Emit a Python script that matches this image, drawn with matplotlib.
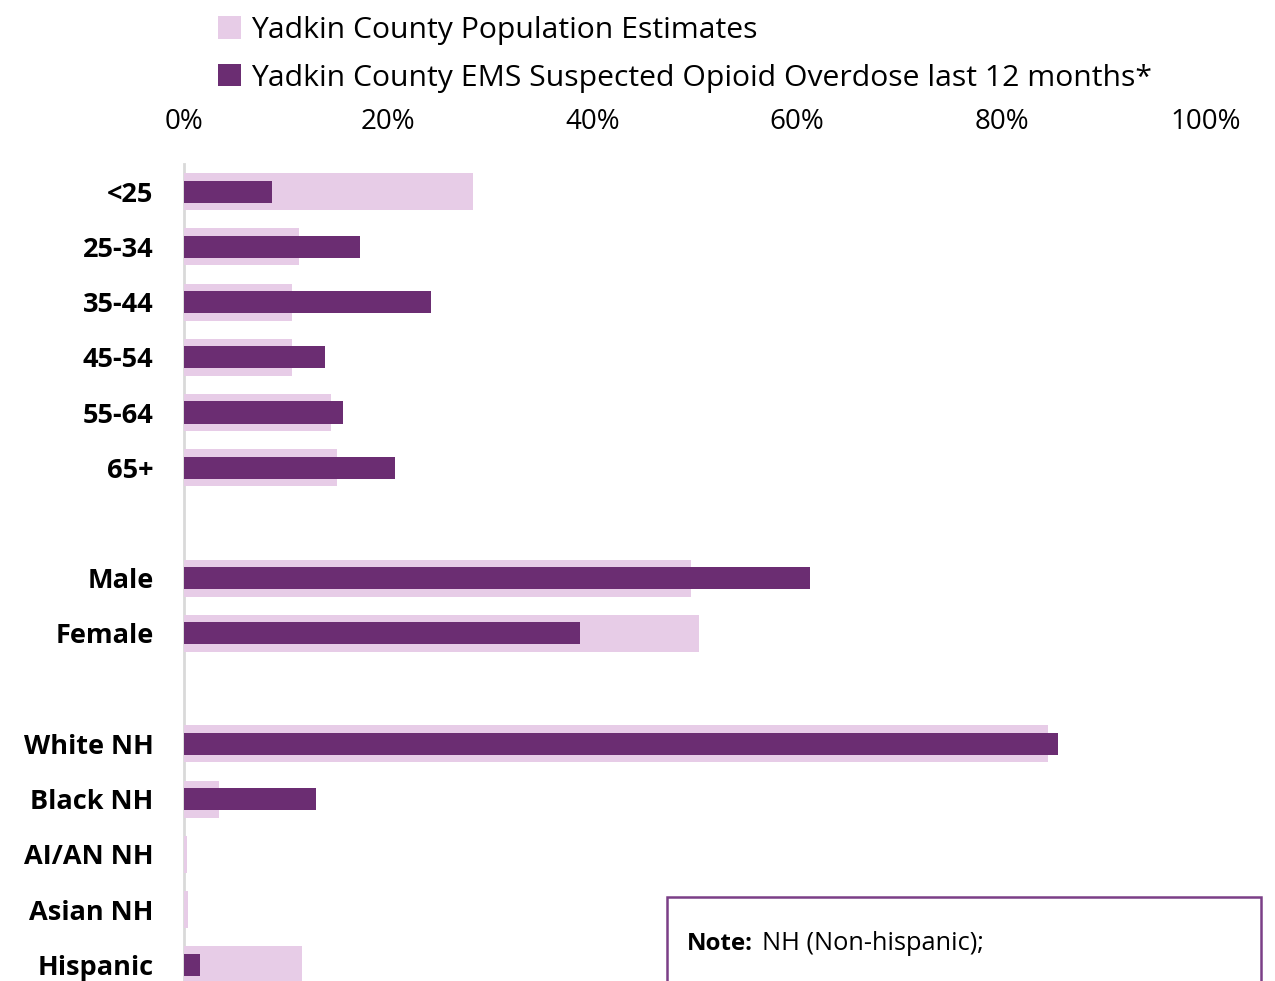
import matplotlib
matplotlib.use("Agg")
import matplotlib.pyplot as plt
from matplotlib.patches import Rectangle, Patch

categories = ["<25", "25-34", "35-44", "45-54", "55-64", "65+", "",
              "Male", "Female", "",
              "White NH", "Black NH", "AI/AN NH", "Asian NH", "Hispanic"]
population = [28.3, 11.3, 10.6, 10.6, 14.4, 15.0, None,
              49.6, 50.4, None,
              84.5, 3.4, 0.25, 0.35, 11.5]
ems = [8.6, 17.2, 24.2, 13.8, 15.6, 20.6, None,
       61.3, 38.7, None,
       85.5, 12.9, 0.0, 0.0, 1.6]
xticks = [0, 20, 40, 60, 80, 100]
xticklabels = ["0%", "20%", "40%", "60%", "80%", "100%"]
legend_labels = ["Yadkin County Population Estimates",
                 "Yadkin County EMS Suspected Opioid Overdose last 12 months*"]

POP_C = "#E7CCE7"
EMS_C = "#6B2D72"
FONT = ["Open Sans", "DejaVu Sans"]
plt.rcParams["font.family"] = FONT

W, H = 1275, 981
fig = plt.figure(figsize=(W / 100, H / 100), dpi=100)

top_px, bot_px = 164, 992.4
left_px, right_px = 184, 1206
ax = fig.add_axes([left_px / W, 1 - bot_px / H, (right_px - left_px) / W, (bot_px - top_px) / H])

ys = list(range(len(categories)))
for y, p, e in zip(ys, population, ems):
    if p is not None:
        ax.barh(y, p, height=0.67, color=POP_C, edgecolor="none", zorder=2)
    if e is not None and e > 0:
        ax.barh(y, e, height=0.40, color=EMS_C, edgecolor="none", zorder=3)

ax.set_xlim(0, 100)
ax.set_ylim(len(categories) - 0.5, -0.5)
ax.set_xticks(xticks)
ax.set_xticklabels(xticklabels, fontsize=20)
ax.xaxis.tick_top()
ax.tick_params(axis="x", length=0, pad=20)
ax.set_yticks(ys)
ax.set_yticklabels(categories, fontsize=19.5, fontweight="bold")
ax.tick_params(axis="y", length=0, pad=22)
for s in ["top", "right", "bottom"]:
    ax.spines[s].set_visible(False)
ax.spines["left"].set_color("#D9D9D9")
ax.spines["left"].set_linewidth(2)
ax.spines["left"].set_zorder(1)

handles = [Patch(facecolor=POP_C, edgecolor="none"), Patch(facecolor=EMS_C, edgecolor="none")]
fig.legend(handles, legend_labels, loc="upper left", bbox_to_anchor=(218 / W, 1 - 16 / H),
           frameon=False, fontsize=21.7, handlelength=0.75, handleheight=0.75,
           handletextpad=0.35, labelspacing=0.62, borderaxespad=0, borderpad=0)

# Note box
rect = Rectangle((667 / W, -0.1), (1261 - 667) / W, 0.1 + (981 - 897) / H,
                 transform=fig.transFigure, facecolor="white", edgecolor="#7B3F87",
                 linewidth=1.8, zorder=5)
fig.patches.append(rect)
t1 = fig.text(687 / W, 1 - 944 / H, "Note:", fontsize=17.4, fontweight="bold",
              va="center", ha="left", zorder=6)
fig.canvas.draw()
bb = t1.get_window_extent(renderer=fig.canvas.get_renderer())
fig.text((bb.x1 + 9) / W, 1 - 944 / H, "NH (Non-hispanic);", fontsize=18.3,
         va="center", ha="left", zorder=6)

fig.savefig("out.png", dpi=100)
